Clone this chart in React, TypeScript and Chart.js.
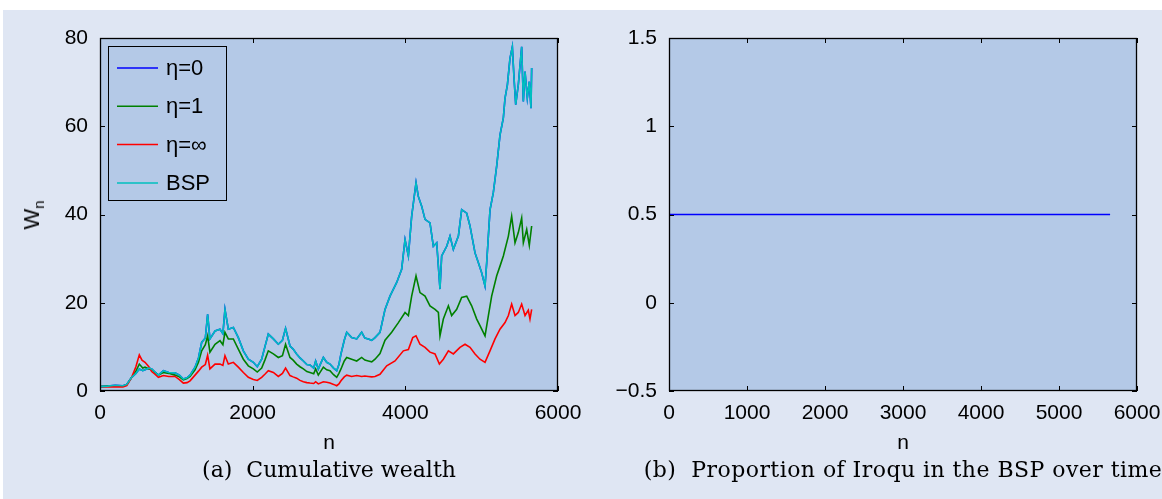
import React, { useEffect, useRef } from 'react';
import { Chart, registerables } from 'chart.js';

Chart.register(...registerables);

type Pt = [number, number];

// ---- data: [n, W_n] ----
const bspWealth: Pt[] = [
  [0, 1.0], [100, 1.1], [200, 1.3], [300, 1.2], [350, 1.5], [415, 3.1], [470, 4.0], [515, 5.0], [560, 4.6], [590, 4.8],
  [640, 5.2], [677, 5.0], [720, 4.3], [765, 3.6], [830, 4.6], [900, 4.2], [983, 4.1], [1040, 3.6], [1092, 2.7], [1140, 3.0],
  [1180, 3.6], [1245, 5.4], [1290, 7.5], [1332, 11.0], [1380, 12.0], [1410, 17.4], [1440, 11.8], [1507, 13.6], [1572, 14.0], [1610, 13.0],
  [1637, 18.5], [1681, 14.0], [1747, 14.4], [1812, 12.1], [1878, 9.1], [1943, 7.2], [2009, 6.5], [2060, 5.5], [2118, 7.2], [2160, 10.0],
  [2205, 12.9], [2271, 11.8], [2336, 10.6], [2390, 11.5], [2431, 14.2], [2489, 10.2], [2530, 9.5], [2576, 8.4], [2620, 7.5], [2664, 6.8],
  [2710, 6.0], [2751, 5.9], [2800, 5.2], [2825, 6.8], [2860, 5.0], [2926, 7.6], [2970, 6.5], [3013, 6.1], [3060, 5.2], [3101, 4.6],
  [3130, 6.0], [3157, 8.4], [3200, 11.5], [3232, 13.3], [3297, 12.1], [3363, 11.8], [3428, 13.3], [3470, 12.0], [3515, 11.8], [3560, 11.5],
  [3603, 12.1], [3668, 13.3], [3734, 18.5], [3799, 21.5], [3887, 24.6], [3952, 27.6], [3996, 34.3], [4040, 30.6], [4083, 39.6], [4140, 47.2],
  [4170, 44.1], [4214, 41.9], [4258, 38.9], [4323, 38.1], [4367, 32.8], [4411, 33.6], [4454, 23.1], [4476, 30.6], [4542, 32.8], [4585, 35.1],
  [4629, 32.1], [4695, 35.1], [4738, 41.1], [4804, 40.3], [4847, 37.4], [4913, 31.3], [4956, 29.1], [5000, 26.8], [5044, 23.8], [5066, 29.1],
  [5109, 41.0], [5153, 45.0], [5197, 51.0], [5240, 58.0], [5284, 61.9], [5306, 66.4], [5337, 69.4], [5371, 75.4], [5402, 78.0], [5424, 70.9],
  [5446, 64.9], [5480, 69.4], [5524, 78.0], [5546, 65.6], [5568, 72.4], [5598, 66.4], [5624, 70.1], [5646, 64.1], [5655, 73.2],
];

const eta0Wealth: Pt[] = [
  [0, 1.0], [100, 1.1], [200, 1.3], [300, 1.2], [350, 1.5], [415, 3.1], [470, 4.0], [515, 5.0], [560, 4.6], [590, 4.8],
  [640, 5.2], [677, 5.0], [720, 4.3], [765, 3.6], [830, 4.6], [900, 4.2], [983, 4.1], [1040, 3.6], [1092, 2.7], [1140, 3.0],
  [1180, 3.6], [1245, 5.4], [1290, 7.5], [1332, 11.0], [1380, 12.0], [1410, 17.4], [1440, 11.8], [1507, 13.6], [1572, 14.0], [1610, 13.0],
  [1637, 18.5], [1681, 14.0], [1747, 14.4], [1812, 12.1], [1878, 9.1], [1943, 7.2], [2009, 6.5], [2060, 5.5], [2118, 7.2], [2160, 10.0],
  [2205, 12.9], [2271, 11.8], [2336, 10.6], [2390, 11.5], [2431, 14.2], [2489, 10.2], [2530, 9.5], [2576, 8.4], [2620, 7.5], [2664, 6.8],
  [2710, 6.0], [2751, 5.9], [2800, 5.2], [2825, 6.8], [2860, 5.0], [2926, 7.6], [2970, 6.5], [3013, 6.1], [3060, 5.2], [3101, 4.6],
  [3130, 6.0], [3157, 8.4], [3200, 11.5], [3232, 13.3], [3297, 12.1], [3363, 11.8], [3428, 13.3], [3470, 12.0], [3515, 11.8], [3560, 11.5],
  [3603, 12.1], [3668, 13.3], [3734, 18.5], [3799, 21.5], [3887, 24.6], [3952, 27.6], [3996, 34.3], [4040, 30.6], [4083, 39.6], [4140, 47.2],
  [4170, 44.1], [4214, 41.9], [4258, 38.9], [4323, 38.1], [4367, 32.8], [4411, 33.6], [4454, 23.1], [4476, 30.6], [4542, 32.8], [4585, 35.1],
  [4629, 32.1], [4695, 35.1], [4738, 41.1], [4804, 40.3], [4847, 37.4], [4913, 31.3], [4956, 29.1], [5000, 26.8], [5044, 23.8], [5066, 29.1],
  [5109, 41.0], [5153, 45.0], [5197, 51.0], [5240, 58.0], [5284, 61.9], [5306, 66.4], [5337, 69.4], [5371, 75.4], [5402, 78.0], [5424, 70.9],
  [5446, 64.9], [5480, 69.4], [5524, 78.0], [5546, 65.6], [5568, 72.4], [5598, 66.4], [5624, 70.1], [5646, 64.1], [5655, 73.2],
];

const eta1Wealth: Pt[] = [
  [0, 1.0], [100, 1.1], [200, 1.2], [300, 1.1], [350, 1.4], [415, 3.1], [470, 4.5], [515, 6.1], [560, 5.2], [590, 5.4],
  [640, 5.0], [677, 4.9], [720, 4.2], [765, 3.6], [830, 4.2], [900, 4.0], [983, 3.6], [1040, 3.2], [1092, 2.5], [1140, 2.8],
  [1180, 3.3], [1245, 4.8], [1290, 6.5], [1332, 9.1], [1380, 10.5], [1410, 12.5], [1440, 8.8], [1507, 10.6], [1572, 11.4], [1610, 10.5],
  [1637, 13.3], [1681, 11.8], [1747, 11.8], [1812, 9.5], [1878, 7.2], [1943, 5.7], [2009, 5.0], [2060, 4.3], [2118, 5.2], [2160, 7.0],
  [2205, 9.1], [2271, 8.4], [2336, 7.6], [2390, 8.0], [2431, 10.6], [2489, 7.6], [2530, 7.0], [2576, 6.1], [2620, 5.5], [2664, 5.0],
  [2710, 4.4], [2751, 4.2], [2800, 3.9], [2825, 5.0], [2860, 3.6], [2926, 5.4], [2970, 4.8], [3013, 4.6], [3060, 3.7], [3101, 3.1],
  [3130, 4.0], [3157, 5.0], [3200, 6.8], [3232, 7.6], [3297, 7.2], [3363, 6.8], [3428, 7.6], [3470, 7.0], [3515, 6.8], [3560, 6.6],
  [3603, 7.2], [3668, 8.5], [3734, 11.5], [3821, 13.3], [3909, 15.5], [3996, 17.8], [4040, 17.1], [4083, 21.5], [4140, 26.1], [4192, 22.3],
  [4258, 21.5], [4323, 19.3], [4389, 18.5], [4433, 17.8], [4454, 12.5], [4498, 16.3], [4564, 19.3], [4607, 17.1], [4673, 18.5], [4738, 21.2],
  [4804, 21.5], [4869, 19.3], [4935, 16.3], [4978, 14.8], [5044, 12.5], [5088, 17.1], [5131, 21.5], [5197, 26.1], [5240, 28.3], [5284, 30.6],
  [5350, 35.1], [5393, 39.6], [5437, 33.6], [5480, 35.9], [5524, 39.2], [5546, 33.6], [5590, 36.6], [5624, 33.0], [5655, 37.4],
];

const etaInfWealth: Pt[] = [
  [0, 1.0], [100, 0.9], [200, 1.0], [300, 0.9], [350, 1.2], [415, 3.1], [470, 5.5], [515, 8.2], [550, 7.0], [590, 6.5],
  [640, 5.5], [677, 4.4], [720, 3.8], [765, 3.1], [830, 3.5], [900, 3.3], [983, 3.3], [1040, 2.6], [1092, 1.8], [1140, 1.9],
  [1180, 2.3], [1245, 3.6], [1290, 4.5], [1332, 5.4], [1380, 6.0], [1410, 8.1], [1440, 5.0], [1507, 6.1], [1572, 6.1], [1610, 5.8],
  [1637, 8.0], [1681, 6.1], [1747, 6.5], [1812, 5.4], [1878, 4.2], [1943, 3.1], [2009, 2.6], [2060, 2.4], [2118, 3.1], [2160, 3.8],
  [2205, 4.6], [2271, 4.2], [2336, 3.3], [2390, 4.0], [2431, 5.2], [2489, 3.5], [2530, 3.2], [2576, 2.9], [2620, 2.4], [2664, 2.1],
  [2710, 1.9], [2751, 1.8], [2800, 1.7], [2825, 2.1], [2860, 1.6], [2926, 2.1], [2970, 2.0], [3013, 1.8], [3060, 1.5], [3101, 1.2],
  [3130, 1.6], [3157, 2.3], [3200, 3.2], [3232, 3.6], [3297, 3.3], [3363, 3.5], [3428, 3.3], [3470, 3.4], [3515, 3.3], [3560, 3.2],
  [3603, 3.3], [3668, 3.8], [3756, 5.7], [3865, 6.8], [3974, 9.1], [4040, 9.4], [4097, 12.1], [4140, 12.5], [4192, 10.6], [4258, 9.9],
  [4323, 8.8], [4389, 8.4], [4446, 6.1], [4498, 7.2], [4564, 9.1], [4629, 8.4], [4716, 9.9], [4782, 10.6], [4847, 9.9], [4913, 8.4],
  [4978, 7.2], [5044, 6.5], [5109, 9.1], [5175, 11.8], [5240, 14.0], [5306, 15.5], [5350, 17.1], [5393, 19.7], [5437, 17.1], [5480, 17.8],
  [5524, 19.7], [5568, 17.1], [5611, 18.3], [5633, 16.3], [5655, 18.5],
];

const proportionIroqu: Pt[] = [[0, 0.5], [5655, 0.5]];

const leftXTicks = [0, 2000, 4000, 6000];
const leftYTicks = [0, 20, 40, 60, 80];
const rightXTicks = [0, 1000, 2000, 3000, 4000, 5000, 6000];
const rightYTicks = [-0.5, 0, 0.5, 1, 1.5];

const seriesLabels = ['η=0', 'η=1', 'η=∞', 'BSP'];
const seriesColors = ['#0000ff', '#008000', '#ff0000', '#00bfbf'];

// ---- styling ----
const FIG_BG = 'rgb(223,230,243)';
const PLOT_BG = 'rgb(180,201,231)';
const SANS = '"Liberation Sans", Arial, Helvetica, sans-serif';
const SERIF = '"DejaVu Serif", serif';

const fmt = (v: number) => (v < 0 ? '\u2212' + Math.abs(v) : String(v));
const toXY = (arr: Pt[]) => arr.map(([x, y]) => ({ x, y }));

const framePlugin = {
  id: 'matlabFrame',
  beforeDraw(chart: any) {
    const { ctx, chartArea } = chart;
    const { left, top, right, bottom } = chartArea;
    ctx.save();
    ctx.fillStyle = PLOT_BG;
    ctx.fillRect(left, top, right - left, bottom - top);
    ctx.restore();
  },
  afterDatasetsDraw(chart: any) {
    const { ctx, chartArea, scales } = chart;
    const { left, top, right, bottom } = chartArea;
    const tl = 5;
    ctx.save();
    ctx.strokeStyle = '#000';
    ctx.lineWidth = 1;
    ctx.beginPath();
    for (const t of scales.x.ticks) {
      const px = Math.round(scales.x.getPixelForValue(t.value)) + 0.5;
      ctx.moveTo(px, bottom); ctx.lineTo(px, bottom - tl);
      ctx.moveTo(px, top); ctx.lineTo(px, top + tl);
    }
    for (const t of scales.y.ticks) {
      const py = Math.round(scales.y.getPixelForValue(t.value)) + 0.5;
      ctx.moveTo(left, py); ctx.lineTo(left + tl, py);
      ctx.moveTo(right, py); ctx.lineTo(right - tl, py);
    }
    ctx.stroke();
    ctx.lineWidth = 1.3;
    ctx.strokeRect(left + 0.5, top + 0.5, right - left - 1, bottom - top - 1);
    ctx.restore();
  },
};

const legendPlugin = {
  id: 'insideLegend',
  afterDraw(chart: any) {
    const { ctx, chartArea } = chart;
    const bx = chartArea.left + 8;
    const by = chartArea.top + 8;
    const bw = 118;
    const bh = 154;
    ctx.save();
    ctx.strokeStyle = '#000';
    ctx.lineWidth = 1;
    ctx.strokeRect(Math.round(bx) + 0.5, Math.round(by) + 0.5, bw, bh);
    ctx.font = `22px ${SANS}`;
    ctx.textBaseline = 'middle';
    ctx.fillStyle = '#000';
    seriesLabels.forEach((lab, i) => {
      const y = by + 22 + i * 38.3;
      ctx.strokeStyle = seriesColors[i];
      ctx.lineWidth = 1.5;
      ctx.beginPath();
      ctx.moveTo(bx + 9, y);
      ctx.lineTo(bx + 50, y);
      ctx.stroke();
      ctx.fillText(lab, bx + 58, y + 1);
    });
    ctx.restore();
  },
};

function axisOpts(xTicks: number[], yTicks: number[], xMin: number, xMax: number, yMin: number, yMax: number, yWidth: number) {
  const tickFont = { family: SANS, size: 21 };
  return {
    x: {
      type: 'linear' as const,
      position: 'bottom' as const,
      min: xMin,
      max: xMax,
      grid: { display: false },
      border: { display: false },
      ticks: { font: tickFont, color: '#000', padding: 2, maxRotation: 0, autoSkip: false, callback: (v: any) => fmt(Number(v)) },
      afterBuildTicks: (s: any) => { s.ticks = xTicks.map((value) => ({ value })); },
      afterFit: (s: any) => { s.height = 40; s.paddingLeft = 0; s.paddingRight = 0; s.paddingTop = 0; s.paddingBottom = 0; },
    },
    y: {
      type: 'linear' as const,
      position: 'left' as const,
      min: yMin,
      max: yMax,
      grid: { display: false },
      border: { display: false },
      ticks: { font: tickFont, color: '#000', padding: 4, autoSkip: false, callback: (v: any) => fmt(Number(v)) },
      afterBuildTicks: (s: any) => { s.ticks = yTicks.map((value) => ({ value })); },
      afterFit: (s: any) => { s.width = yWidth; s.paddingLeft = 0; s.paddingRight = 0; s.paddingTop = 0; s.paddingBottom = 0; },
    },
  };
}

export default function App() {
  const leftRef = useRef<HTMLCanvasElement | null>(null);
  const rightRef = useRef<HTMLCanvasElement | null>(null);

  useEffect(() => {
    const series = [eta0Wealth, eta1Wealth, etaInfWealth, bspWealth];
    const orders = [3, 2, 1, 0];
    const left = new Chart(leftRef.current as HTMLCanvasElement, {
      type: 'line',
      data: {
        datasets: series.map((s, i) => ({
          label: seriesLabels[i],
          data: toXY(s),
          borderColor: seriesColors[i],
          backgroundColor: seriesColors[i],
          borderWidth: 1.6,
          pointRadius: 0,
          tension: 0,
          fill: false,
          order: orders[i],
        })),
      },
      options: {
        animation: false,
        responsive: false,
        maintainAspectRatio: false,
        devicePixelRatio: 1,
        layout: { padding: { left: 30, right: 42, top: 38, bottom: 68 } },
        plugins: { legend: { display: false }, tooltip: { enabled: false }, title: { display: false } },
        scales: axisOpts(leftXTicks, leftYTicks, 0, 6000, 0, 80, 70) as any,
        events: [],
      },
      plugins: [framePlugin, legendPlugin],
    });

    const right = new Chart(rightRef.current as HTMLCanvasElement, {
      type: 'line',
      data: {
        datasets: [{
          label: 'Iroqu',
          data: toXY(proportionIroqu),
          borderColor: '#0000ff',
          borderWidth: 1.3,
          pointRadius: 0,
          tension: 0,
          fill: false,
        }],
      },
      options: {
        animation: false,
        responsive: false,
        maintainAspectRatio: false,
        devicePixelRatio: 1,
        layout: { padding: { left: 9, right: 25, top: 38, bottom: 68 } },
        plugins: { legend: { display: false }, tooltip: { enabled: false }, title: { display: false } },
        scales: axisOpts(rightXTicks, rightYTicks, 0, 6000, -0.5, 1.5, 60) as any,
        events: [],
      },
      plugins: [framePlugin],
    });

    return () => { left.destroy(); right.destroy(); };
  }, []);

  const abs: React.CSSProperties = { position: 'absolute', whiteSpace: 'nowrap', color: '#000' };

  return (
    <div style={{ position: 'absolute', left: 0, top: 0, width: 1162, height: 499, background: '#fff', overflow: 'hidden' }}>
      <div style={{ position: 'absolute', left: 3, top: 10, right: 0, bottom: 0, background: FIG_BG }} />
      <canvas ref={leftRef} width={600} height={499} style={{ position: 'absolute', left: 0, top: 0, width: 600, height: 499 }} />
      <canvas ref={rightRef} width={562} height={499} style={{ position: 'absolute', left: 600, top: 0, width: 562, height: 499 }} />

      <div style={{ ...abs, left: 33, top: 215, fontFamily: SANS, fontSize: 22, lineHeight: '22px', transform: 'translate(-50%, -50%) rotate(-90deg)' }}>
        W<span style={{ fontSize: 15, position: 'relative', top: 5 }}>n</span>
      </div>

      <div style={{ ...abs, left: 329, top: 431, fontFamily: SANS, fontSize: 21, lineHeight: '21px', transform: 'translateX(-50%)' }}>n</div>
      <div style={{ ...abs, left: 903, top: 431, fontFamily: SANS, fontSize: 21, lineHeight: '21px', transform: 'translateX(-50%)' }}>n</div>

      <div style={{ ...abs, left: 329, top: 459, fontFamily: SERIF, fontSize: 22, lineHeight: '22px', transform: 'translateX(-50%)' }}>(a)&nbsp; Cumulative wealth</div>
      <div style={{ ...abs, left: 903, top: 459, fontFamily: SERIF, fontSize: 22, lineHeight: '22px', letterSpacing: '0.45px', transform: 'translateX(-50%)' }}>(b)&nbsp; Proportion of Iroqu in the BSP over time</div>
    </div>
  );
}
